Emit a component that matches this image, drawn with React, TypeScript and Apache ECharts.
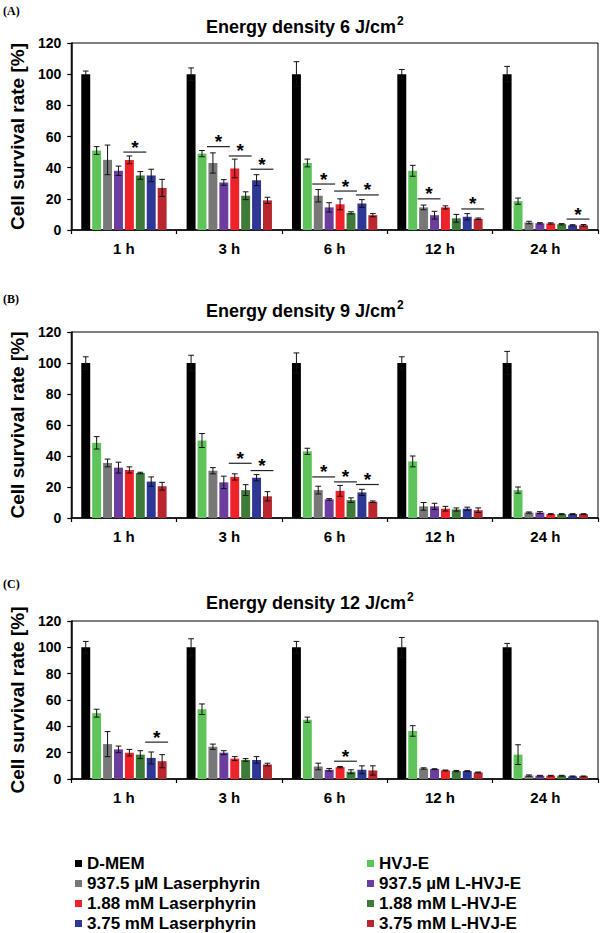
import React, { useEffect, useRef } from "react";
import * as echarts from "echarts";

// ---------- data ----------
const categories = ["1 h", "3 h", "6 h", "12 h", "24 h"];
const seriesNames = [
  "D-MEM",
  "HVJ-E",
  "937.5 µM Laserphyrin",
  "937.5 µM L-HVJ-E",
  "1.88 mM Laserphyrin",
  "1.88 mM L-HVJ-E",
  "3.75 mM Laserphyrin",
  "3.75 mM L-HVJ-E",
];
const seriesColors = ["#000000", "#5ec45a", "#787878", "#6a3d9e", "#ee2229", "#3e7b3a", "#2e3696", "#ba262e"];
const panelTitles = ["Energy density 6 J/cm", "Energy density 9 J/cm", "Energy density 12 J/cm"];
const titleSup = "2";
const panelLabels = ["(A)", "(B)", "(C)"];
const yAxisName = "Cell survival rate [%]";

// Panel A (6 J/cm2): rows = series, columns = 1h,3h,6h,12h,24h
const meansA = [
  [100, 100, 100, 100, 100],
  [51, 49, 43, 38, 18.5],
  [45, 43, 22, 14.5, 4.8],
  [38, 30.5, 14.5, 9.5, 4.3],
  [45, 39.5, 16.5, 14.5, 4.2],
  [35, 22, 11, 7.5, 3.7],
  [35, 32, 17, 8.5, 3],
  [27, 19, 9.5, 7.2, 3],
];
const errA = [
  [2, 4, 8, 3, 5],
  [2.5, 2, 2.5, 3.5, 2],
  [9.5, 6.5, 4, 1.5, 0.8],
  [3, 1.8, 3, 2.5, 0.4],
  [2.5, 6, 3.5, 1, 0.4],
  [2.5, 2.5, 0.7, 2.5, 0.4],
  [4, 3.5, 2.5, 2, 0.4],
  [5.5, 2, 1, 0.5, 0.5],
];
// significance marks: [category, first bar, second bar, y level]
const sigA = [
  [0, 4, 5, 50],
  [1, 2, 3, 53.5],
  [1, 4, 5, 47.5],
  [1, 6, 7, 39],
  [2, 2, 3, 29.5],
  [2, 4, 5, 25],
  [2, 6, 7, 22.5],
  [3, 2, 3, 20],
  [3, 6, 7, 13.5],
  [4, 6, 7, 7],
];

// Panel B (9 J/cm2)
const meansB = [
  [100, 100, 100, 100, 100],
  [48.5, 50, 43, 36.5, 18],
  [35.5, 30.5, 18, 7.5, 3.5],
  [32.5, 23, 12, 7.5, 3.5],
  [31, 26.5, 17.5, 6, 2.5],
  [29, 18, 11.5, 5.5, 2.5],
  [23.5, 26, 16.5, 6, 2.5],
  [20.5, 14, 10.5, 5, 2.5],
];
const errB = [
  [4, 5, 6.5, 4, 7.5],
  [4, 4.5, 2, 3.5, 2],
  [2.5, 2, 2.5, 2.5, 0.4],
  [3.5, 4, 0.5, 2, 0.6],
  [2, 2, 3.5, 1.5, 0.3],
  [0.5, 3.5, 1.5, 1, 0.3],
  [3, 2, 2, 1, 0.3],
  [2.5, 3, 0.5, 1.5, 0.3],
];
const sigB = [
  [1, 4, 5, 35.3],
  [1, 6, 7, 30.6],
  [2, 2, 3, 26.5],
  [2, 4, 5, 23.3],
  [2, 6, 7, 21.6],
];

// Panel C (12 J/cm2)
const meansC = [
  [100, 100, 100, 100, 100],
  [50, 53, 45, 36.5, 18.5],
  [26.5, 24.5, 9.5, 8, 2.6],
  [22.5, 20, 7, 7.5, 2.5],
  [20, 15.5, 9, 6.5, 2.5],
  [18.5, 14.5, 5.5, 6, 2.5],
  [16, 14.5, 7, 6, 2],
  [13.5, 11, 6.5, 5, 2],
];
const errC = [
  [4.5, 6.5, 4.5, 7.5, 3],
  [3, 4, 2, 4, 7.5],
  [9.5, 2, 2.5, 0.5, 0.5],
  [2.5, 1.5, 1, 0.3, 0.3],
  [2.5, 1.5, 0.5, 0.3, 0.3],
  [3, 1, 1.5, 0.5, 0.3],
  [4.5, 2.5, 3, 0.3, 0.3],
  [5, 1, 3.5, 0.3, 0.3],
];
const sigC = [
  [0, 6, 7, 28],
  [2, 4, 5, 13.5],
];

const yMin = 0;
const yMax = 120;
const yStep = 20;

// ---------- layout ----------
const FONT = "'Liberation Sans', Arial, Helvetica, sans-serif";
const gridBoxes = [
  { top: 43, height: 187 },
  { top: 332, height: 186 },
  { top: 621, height: 158 },
];
const titleY = [26, 310, 602];
const labelY = [12, 300, 585];
const N_BARS = 8;
const CAT_GAP = 0.19;
const BAR_GAP = 0.22;

function barGeom(api: any, cat: number, idx: number) {
  const band = api.size([1, 0])[0];
  const w = (band - band * CAT_GAP) / (N_BARS + (N_BARS - 1) * BAR_GAP);
  const total = N_BARS * w + (N_BARS - 1) * w * BAR_GAP;
  const x = api.coord([cat, 0])[0];
  return { cx: x - total / 2 + idx * w * (1 + BAR_GAP) + w / 2, w };
}

function buildOption() {
  const panels = [
    { means: meansA, err: errA, sig: sigA },
    { means: meansB, err: errB, sig: sigB },
    { means: meansC, err: errC, sig: sigC },
  ];
  const grid: any[] = [];
  const xAxis: any[] = [];
  const yAxis: any[] = [];
  const series: any[] = [];
  const graphic: any[] = [];

  panels.forEach((p, pi) => {
    grid.push({
      left: 66,
      width: 532,
      top: gridBoxes[pi].top,
      height: gridBoxes[pi].height,
      show: true,
      borderColor: "#000",
      borderWidth: 1,
      backgroundColor: "transparent",
    });
    xAxis.push({
      type: "category",
      gridIndex: pi,
      data: categories,
      boundaryGap: true,
      axisLine: { show: true, lineStyle: { color: "#000", width: 1.5 } },
      axisTick: { show: true, inside: false, length: 4, lineStyle: { color: "#000", width: 1.2 } },
      axisLabel: {
        interval: 0,
        margin: 11,
        color: "#000",
        fontFamily: FONT,
        fontWeight: "bold",
        fontSize: 15,
      },
    });
    yAxis.push({
      type: "value",
      gridIndex: pi,
      min: yMin,
      max: yMax,
      interval: yStep,
      name: yAxisName,
      nameLocation: "middle",
      nameGap: 44,
      nameTextStyle: { color: "#000", fontFamily: FONT, fontWeight: "bold", fontSize: 19 },
      splitLine: { show: false },
      axisLine: { show: true, lineStyle: { color: "#000", width: 1.5 } },
      axisTick: { show: true, inside: false, length: 4, lineStyle: { color: "#000", width: 1.2 } },
      axisLabel: { margin: 10, color: "#000", fontFamily: FONT, fontWeight: "bold", fontSize: 14 },
    });

    seriesNames.forEach((name, si) => {
      series.push({
        type: "bar",
        name,
        xAxisIndex: pi,
        yAxisIndex: pi,
        data: p.means[si],
        itemStyle: { color: seriesColors[si] },
        barCategoryGap: "19%",
        barGap: "22%",
        z: 2,
      });
    });

    const errData: number[][] = [];
    p.means.forEach((row, si) => {
      row.forEach((m, ci) => {
        errData.push([ci, si, m, p.err[si][ci]]);
      });
    });
    series.push({
      type: "custom",
      name: "err" + pi,
      xAxisIndex: pi,
      yAxisIndex: pi,
      data: errData,
      encode: { x: 0, y: 2 },
      z: 5,
      silent: true,
      clip: false,
      renderItem: (params: any, api: any) => {
        const cat = api.value(0);
        const idx = api.value(1);
        const m = api.value(2);
        const e = api.value(3);
        const { cx, w } = barGeom(api, cat, idx);
        const top = api.coord([cat, m + e])[1];
        const bot = api.coord([cat, Math.max(m - e, 0)])[1];
        const cap = Math.max(w * 0.32, 2.5);
        const st = { stroke: "#111", lineWidth: 1 };
        return {
          type: "group",
          children: [
            { type: "line", shape: { x1: cx, y1: top, x2: cx, y2: bot }, style: st },
            { type: "line", shape: { x1: cx - cap, y1: top, x2: cx + cap, y2: top }, style: st },
            { type: "line", shape: { x1: cx - cap, y1: bot, x2: cx + cap, y2: bot }, style: st },
          ],
        };
      },
    });

    series.push({
      type: "custom",
      name: "sig" + pi,
      xAxisIndex: pi,
      yAxisIndex: pi,
      data: p.sig,
      encode: { x: 0, y: 3 },
      z: 6,
      silent: true,
      clip: false,
      renderItem: (params: any, api: any) => {
        const cat = api.value(0);
        const b1 = api.value(1);
        const b2 = api.value(2);
        const yv = api.value(3);
        const g1 = barGeom(api, cat, b1);
        const g2 = barGeom(api, cat, b2);
        const x1 = g1.cx - g1.w / 2 - 1.5;
        const x2 = g2.cx + g2.w / 2 + 1.5;
        const y = api.coord([cat, yv])[1];
        return {
          type: "group",
          children: [
            { type: "line", shape: { x1, y1: y, x2, y2: y }, style: { stroke: "#222", lineWidth: 1.2 } },
            {
              type: "text",
              x: (x1 + x2) / 2,
              y: y - 5,
              style: {
                text: "*",
                fill: "#000",
                font: "bold 19px " + FONT,
                textAlign: "center",
                textVerticalAlign: "middle",
              },
            },
          ],
        };
      },
    });

    graphic.push({
      type: "text",
      left: 206,
      top: titleY[pi] - 12,
      style: {
        text: "{m|" + panelTitles[pi] + "}{s|" + titleSup + "}",
        fill: "#000",
        rich: {
          m: { fontFamily: FONT, fontWeight: "bold", fontSize: 18, lineHeight: 22, fill: "#000", verticalAlign: "bottom" },
          s: { fontFamily: FONT, fontWeight: "bold", fontSize: 12, lineHeight: 22, fill: "#000", verticalAlign: "top", padding: [1, 0, 0, 1] },
        },
      },
    });
    graphic.push({
      type: "text",
      left: 3,
      top: labelY[pi] - 7,
      style: {
        text: panelLabels[pi],
        fill: "#000",
        font: "bold 12px 'Liberation Serif', 'Times New Roman', serif",
      },
    });
  });

  const legendBase = {
    orient: "vertical",
    top: 855,
    itemWidth: 7,
    itemHeight: 7,
    itemGap: 3,
    padding: 0,
    icon: "rect",
    selectedMode: false,
    textStyle: { color: "#000", fontFamily: FONT, fontWeight: "bold", fontSize: 17, lineHeight: 16 },
  };

  return {
    animation: false,
    backgroundColor: "#ffffff",
    textStyle: { fontFamily: FONT },
    grid,
    xAxis,
    yAxis,
    series,
    graphic,
    legend: [
      { ...legendBase, left: 75, data: [seriesNames[0], seriesNames[2], seriesNames[4], seriesNames[6]] },
      { ...legendBase, left: 367, data: [seriesNames[1], seriesNames[3], seriesNames[5], seriesNames[7]] },
    ],
  };
}

export default function App() {
  const ref = useRef<HTMLDivElement>(null);
  useEffect(() => {
    if (!ref.current) return;
    const chart = echarts.init(ref.current, undefined, { renderer: "svg" });
    chart.setOption(buildOption() as any);
    return () => {
      chart.dispose();
    };
  }, []);
  return (
    <div
      ref={ref}
      style={{ position: "absolute", left: 0, top: 0, width: 600, height: 933, background: "#fff" }}
    />
  );
}
